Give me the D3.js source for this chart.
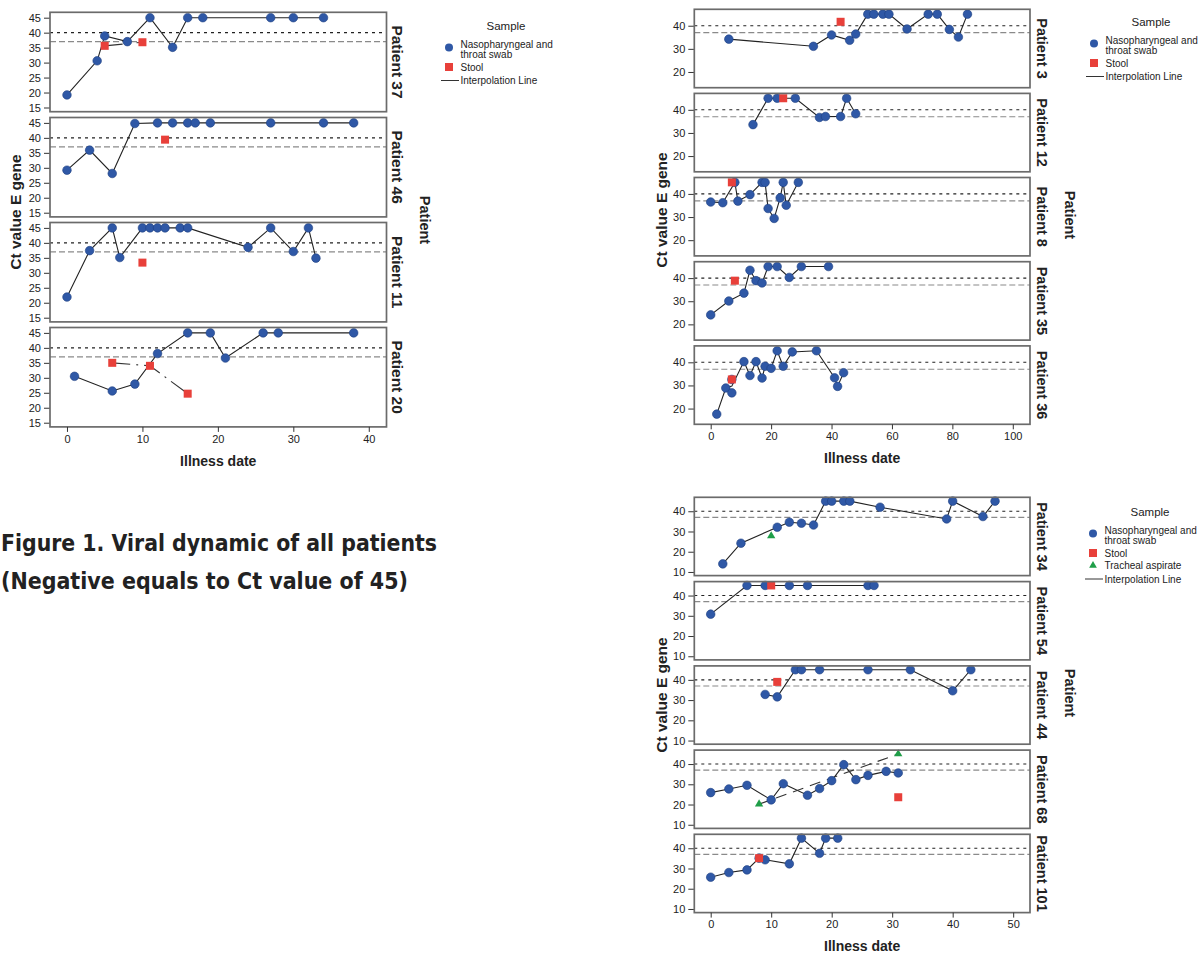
<!DOCTYPE html>
<html>
<head>
<meta charset="utf-8">
<title>Viral dynamic of all patients</title>
<script src="https://cdn.jsdelivr.net/npm/d3@7"></script>
<style>
  body { margin: 0; background: #fff; }
  text { font-family: 'Liberation Sans', Arial, sans-serif; fill: #222; }
</style>
</head>
<body>
<div id="chart"></div>
<script>
// ---- data: [illness day, Ct value] ----
const p37_swab  = [[0,19.2],[4,30.6],[5,38.9],[8,37],[11,45],[14,35.1],[16,45],[18,45],[27,45],[30,45],[34,45]];
const p37_stool = [[5,35.6],[10,36.8]];
const p46_swab  = [[0,29.2],[3,35.9],[6,28.1],[9,44.8],[12,45],[14,45],[16,45],[17,45],[19,45],[27,45],[34,45],[38,45]];
const p46_stool = [[13,39.4]];
const p11_swab  = [[0,21.9],[3,37.4],[6,45],[7,35.1],[10,45],[11,45],[12,45],[13,45],[15,45],[16,45],[24,38.5],[27,45],[30,37.1],[32,45],[33,34.9]];
const p11_stool = [[10,33.4]];
const p20_swab  = [[1,30.5],[6,25.6],[9,27.9],[12,38.1],[16,45],[19,45],[21,36.6],[26,45],[28,45],[38,45]];
const p20_stool = [[6,35.0],[11,34.0],[16,24.7]];

const p3_swab   = [[6,34.2],[34,31.1],[40,36.0],[46,33.7],[48,36.4],[52,45],[54,45],[57,45],[59,45],[65,38.6],[72,45],[75,45],[79,38.4],[82,35.1],[85,45]];
const p3_stool  = [[43,41.7]];
const p12_swab  = [[14,33.6],[19,45],[22,45],[28,45],[36,36.7],[38,37.1],[43,37.1],[45,45],[48,38.3]];
const p12_stool = [[24,45]];
const p8_swab   = [[0,36.5],[4,36.2],[8,45],[9,36.9],[13,39.7],[17,45],[18,45],[19,33.7],[21,29.4],[23,38.3],[24,45],[25,35.1],[29,45]];
const p8_stool  = [[7,45]];
const p35_swab  = [[0,24.1],[6,30.1],[11,33.5],[13,43.4],[15,38.9],[17,37.9],[19,45],[22,45],[26,40.3],[30,45],[39,45]];
const p35_stool = [[8,38.9]];
const p36_swab  = [[2,17.6],[5,28.9],[7,26.8],[7,32.6],[11,40.3],[13,34.3],[15,40.3],[17,33.2],[18,38.3],[20,37.4],[22,45],[24,38.3],[27,44.5],[35,45],[41,33.3],[42,29.6],[44,35.5]];
const p36_stool = [[7,32.6]];

const p34_swab   = [[2,14.0],[5,24.2],[11,32.1],[13,34.6],[15,34.1],[17,33.2],[19,45],[20,45],[22,45],[23,45],[28,42.0],[39,36.2],[40,45],[45,37.4],[47,45]];
const p34_trach  = [[10,27.8]];
const p54_swab   = [[0,30.8],[6,45],[9,45],[13,45],[16,45],[26,45],[27,45]];
const p54_stool  = [[10,45]];
const p44_swab   = [[9,32.8],[11,31.6],[14,45],[15,45],[18,45],[26,45],[33,45],[40,34.6],[43,45]];
const p44_stool  = [[11,39.0]];
const p68_swab   = [[0,25.9],[3,27.7],[6,29.5],[10,22.3],[12,30.3],[16,24.6],[18,27.9],[20,31.8],[22,39.7],[24,32.3],[26,34.4],[29,36.4],[31,35.6]];
const p68_stool  = [[31,23.6]];
const p68_trach  = [[8,20.2],[31,45]];
const p101_swab  = [[0,25.7],[3,28.0],[6,29.3],[8,35.1],[9,34.3],[13,32.3],[15,45],[18,37.5],[19,45],[21,45]];
const p101_stool = [[8,35.1]];

const cutoffPositive = 37;   // grey dashed line
const cutoffNegative = 40;   // black dotted line

const leftXTicks  = [0, 10, 20, 30, 40];
const leftYTicks  = [15, 20, 25, 30, 35, 40, 45];
const trXTicks    = [0, 20, 40, 60, 80, 100];
const trYTicks    = [20, 30, 40];
const brXTicks    = [0, 10, 20, 30, 40, 50];
const brYTicks    = [10, 20, 30, 40];

// ---- layout ----
const W = 1204, H = 953;
const svg = d3.select("#chart").append("svg")
  .attr("width", W).attr("height", H);
svg.append("rect").attr("width", W).attr("height", H).attr("fill", "#fff");

const groups = [
  {
    panels: [
      { name: "Patient 37", swab: p37_swab, stool: p37_stool },
      { name: "Patient 46", swab: p46_swab, stool: p46_stool },
      { name: "Patient 11", swab: p11_swab, stool: p11_stool },
      { name: "Patient 20", swab: p20_swab, stool: p20_stool }
    ],
    left: 50, right: 386.5, xDomain: [-2.25, 42.35],
    tops: [12.3, 117.5, 222.5, 327.5], height: 99.4,
    yDomain: [13.6, 46.8], xTicks: leftXTicks, yTicks: leftYTicks,
    labelX: 397, labelSize: 15.5,
    titleX: 425, titleY: 220, ctX: 15, ctY: 212,
    dateY: 466, legendX: 449, legendY: 26, trach: false
  },
  {
    panels: [
      { name: "Patient 3", swab: p3_swab, stool: p3_stool },
      { name: "Patient 12", swab: p12_swab, stool: p12_stool },
      { name: "Patient 8", swab: p8_swab, stool: p8_stool },
      { name: "Patient 35", swab: p35_swab, stool: p35_stool },
      { name: "Patient 36", swab: p36_swab, stool: p36_stool }
    ],
    left: 694.3, right: 1030, xDomain: [-5.43, 105.7],
    tops: [9.3, 93.4, 177.5, 261.7, 345.9], height: 78.4,
    yDomain: [13.2, 47.1], xTicks: trXTicks, yTicks: trYTicks,
    labelX: 1042, labelSize: 14.5,
    titleX: 1070, titleY: 215, ctX: 661, ctY: 210,
    dateY: 463, legendX: 1094, legendY: 22, trach: false
  },
  {
    panels: [
      { name: "Patient 34", swab: p34_swab, trach: p34_trach },
      { name: "Patient 54", swab: p54_swab, stool: p54_stool },
      { name: "Patient 44", swab: p44_swab, stool: p44_stool },
      { name: "Patient 68", swab: p68_swab, stool: p68_stool, trach: p68_trach },
      { name: "Patient 101", swab: p101_swab, stool: p101_stool }
    ],
    left: 694.3, right: 1030, xDomain: [-2.71, 52.78],
    tops: [497.3, 581.6, 665.9, 750.1, 834.3], height: 78.3,
    yDomain: [8.2, 46.9], xTicks: brXTicks, yTicks: brYTicks,
    labelX: 1042, labelSize: 14.5,
    titleX: 1070, titleY: 693, ctX: 661, ctY: 695,
    dateY: 951, legendX: 1093, legendY: 512, trach: true
  }
];

const blue = "#2f58a6", blueEdge = "#1f3f82";
const red = "#e8403a";
const green = "#1f9e48";

// mean of duplicate days, for the interpolation line
function lineData(arr) {
  return d3.rollups(arr, v => d3.mean(v, d => d[1]), d => d[0])
    .sort((a, b) => a[0] - b[0]);
}

function drawGroup(g) {
  const x = d3.scaleLinear().domain(g.xDomain).range([g.left, g.right]);

  g.panels.forEach((p, i) => {
    const top = g.tops[i];
    const y = d3.scaleLinear().domain(g.yDomain).range([top + g.height, top]);
    const panel = svg.append("g");

    panel.append("line")
      .attr("x1", g.left).attr("x2", g.right)
      .attr("y1", y(cutoffNegative)).attr("y2", y(cutoffNegative))
      .attr("stroke", "#222").attr("stroke-width", 1.1)
      .attr("stroke-dasharray", "3,4");
    panel.append("line")
      .attr("x1", g.left).attr("x2", g.right)
      .attr("y1", y(cutoffPositive)).attr("y2", y(cutoffPositive))
      .attr("stroke", "#8a8a8a").attr("stroke-width", 1.1)
      .attr("stroke-dasharray", "6,3");

    const yAxis = panel.append("g")
      .attr("transform", `translate(${g.left},0)`)
      .call(d3.axisLeft(y).tickValues(g.yTicks).tickSize(6).tickPadding(3));
    yAxis.select(".domain").remove();
    yAxis.selectAll("line").attr("stroke", "#333");
    yAxis.selectAll("text").style("font-size", "11px").attr("fill", "#222")
      .style("font-family", "'Liberation Sans', Arial, sans-serif");

    const line = d3.line().x(d => x(d[0])).y(d => y(d[1]));

    if (p.swab) {
      panel.append("path").datum(lineData(p.swab))
        .attr("d", line).attr("fill", "none")
        .attr("stroke", "#222").attr("stroke-width", 1.1);
    }
    if (p.stool && p.stool.length > 1) {
      panel.append("path").datum(lineData(p.stool))
        .attr("d", line).attr("fill", "none")
        .attr("stroke", "#333").attr("stroke-width", 1.1)
        .attr("stroke-dasharray", "18,6,2,6");
    }
    if (p.trach && p.trach.length > 1) {
      panel.append("path").datum(lineData(p.trach))
        .attr("d", line).attr("fill", "none")
        .attr("stroke", "#333").attr("stroke-width", 1.1)
        .attr("stroke-dasharray", "11,7");
    }

    if (p.swab) {
      panel.selectAll("circle.swab").data(p.swab).enter()
        .append("circle").attr("class", "swab")
        .attr("cx", d => x(d[0])).attr("cy", d => y(d[1]))
        .attr("r", 4.3).attr("fill", blue)
        .attr("stroke", blueEdge).attr("stroke-width", 0.6);
    }
    if (p.stool) {
      panel.selectAll("rect.stool").data(p.stool).enter()
        .append("rect").attr("class", "stool")
        .attr("x", d => x(d[0]) - 4).attr("y", d => y(d[1]) - 4)
        .attr("width", 8).attr("height", 8).attr("fill", red);
    }
    if (p.trach) {
      panel.selectAll("path.trach").data(p.trach).enter()
        .append("path").attr("class", "trach")
        .attr("d", d3.symbol().type(d3.symbolTriangle).size(30))
        .attr("transform", d => `translate(${x(d[0])},${y(d[1])})`)
        .attr("fill", green);
    }

    panel.append("rect")
      .attr("x", g.left).attr("y", top)
      .attr("width", g.right - g.left).attr("height", g.height)
      .attr("fill", "none").attr("stroke", "#6b6b6b").attr("stroke-width", 1.7);

    panel.append("text")
      .attr("transform", `translate(${g.labelX},${top + g.height / 2}) rotate(90)`)
      .attr("text-anchor", "middle").attr("dominant-baseline", "central")
      .style("font-weight", "bold").style("font-size", g.labelSize + "px")
      .text(p.name);

    if (i === g.panels.length - 1) {
      const xAxis = panel.append("g")
        .attr("transform", `translate(0,${top + g.height})`)
        .call(d3.axisBottom(x).tickValues(g.xTicks).tickSize(5).tickPadding(3));
      xAxis.select(".domain").remove();
      xAxis.selectAll("line").attr("stroke", "#333");
      xAxis.selectAll("text").style("font-size", "11px").attr("fill", "#222")
        .style("font-family", "'Liberation Sans', Arial, sans-serif");
    }
  });

  svg.append("text")
    .attr("x", (g.left + g.right) / 2).attr("y", g.dateY)
    .attr("text-anchor", "middle")
    .style("font-weight", "bold").style("font-size", "14px")
    .text("Illness date");
  svg.append("text")
    .attr("transform", `translate(${g.ctX},${g.ctY}) rotate(-90)`)
    .attr("text-anchor", "middle").attr("dominant-baseline", "central")
    .style("font-weight", "bold").style("font-size", "15.5px")
    .text("Ct value E gene");
  svg.append("text")
    .attr("transform", `translate(${g.titleX},${g.titleY}) rotate(90)`)
    .attr("text-anchor", "middle").attr("dominant-baseline", "central")
    .style("font-weight", "bold").style("font-size", "14.5px")
    .text("Patient");

  drawLegend(g);
}

function drawLegend(g) {
  const lg = svg.append("g").attr("transform", `translate(${g.legendX},${g.legendY})`);
  lg.append("text").attr("x", 57).attr("y", 0)
    .attr("text-anchor", "middle").attr("dominant-baseline", "central")
    .style("font-size", "11.5px").attr("fill", "#333").text("Sample");
  const tx = 11.5;
  let yy = 21.5;
  lg.append("circle").attr("cx", 0).attr("cy", yy).attr("r", 4).attr("fill", blue);
  lg.append("text").attr("x", tx).attr("y", yy - 3).attr("dominant-baseline", "central")
    .style("font-size", "10px").text("Nasopharyngeal and");
  lg.append("text").attr("x", tx).attr("y", yy + 6.5).attr("dominant-baseline", "central")
    .style("font-size", "10px").text("throat swab");
  yy += 19.5;
  lg.append("rect").attr("x", -4).attr("y", yy - 4).attr("width", 8).attr("height", 8).attr("fill", red);
  lg.append("text").attr("x", tx).attr("y", yy).attr("dominant-baseline", "central")
    .style("font-size", "10px").text("Stool");
  if (g.trach) {
    yy += 12.5;
    lg.append("path").attr("d", d3.symbol().type(d3.symbolTriangle).size(26))
      .attr("transform", `translate(0,${yy})`).attr("fill", green);
    lg.append("text").attr("x", tx).attr("y", yy).attr("dominant-baseline", "central")
      .style("font-size", "10px").text("Tracheal aspirate");
  }
  yy += 13.5;
  lg.append("line").attr("x1", -8).attr("x2", tx - 1.5).attr("y1", yy).attr("y2", yy)
    .attr("stroke", "#333").attr("stroke-width", 1);
  lg.append("text").attr("x", tx).attr("y", yy).attr("dominant-baseline", "central")
    .style("font-size", "10px").text("Interpolation Line");
}

groups.forEach(drawGroup);

// figure caption
const caption = ["Figure 1. Viral dynamic of all patients", "(Negative equals to Ct value of 45)"];
const captionWidths = [436, 407];
caption.forEach((t, i) => {
  svg.append("text")
    .attr("x", 1).attr("y", 551 + i * 38)
    .attr("textLength", captionWidths[i]).attr("lengthAdjust", "spacingAndGlyphs")
    .style("font-family", "'DejaVu Sans', Verdana, sans-serif")
    .style("font-weight", "bold").style("font-size", "23.5px").attr("fill", "#231f20")
    .text(t);
});
</script>
</body>
</html>
